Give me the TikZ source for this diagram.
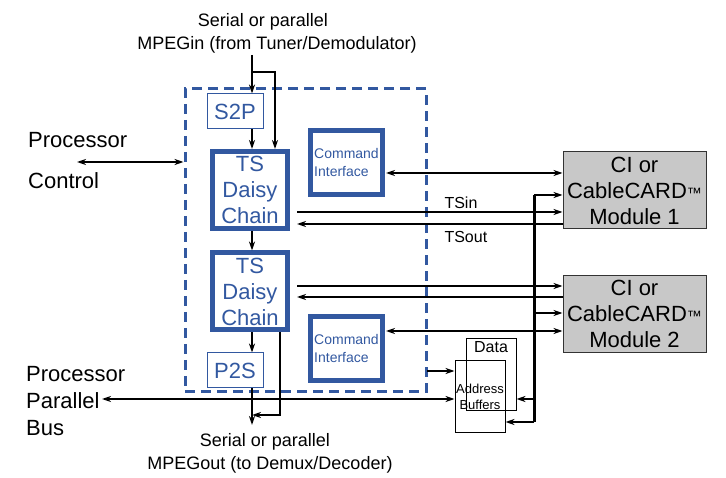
\documentclass[tikz,border=0pt]{standalone}
\usepackage{fontspec}
\setmainfont{Liberation Sans}
\usetikzlibrary{arrows.meta}
\definecolor{chipblue}{RGB}{50,88,160}
\definecolor{cardgray}{RGB}{200,200,200}

\begin{document}
\begin{tikzpicture}[x=1pt,y=-1pt,
  >={Stealth[length=9pt,width=6pt]},
  sig/.style={line width=1.5pt},
  bigtxt/.style={font=\fontsize{22}{27}\selectfont},
  captxt/.style={font=\fontsize{18}{22}\selectfont},
  smallbox/.style={draw=chipblue, line width=1pt, text=chipblue, bigtxt, inner sep=0pt, minimum width=56pt, minimum height=35pt},
  tsbox/.style={draw=chipblue, line width=5pt, text=chipblue, font=\fontsize{22}{26}\selectfont, align=center, inner sep=0pt, minimum width=75pt, minimum height=77pt},
  cmdbox/.style={draw=chipblue, line width=5pt, text=chipblue, font=\fontsize{14}{18}\selectfont, align=left, inner sep=0pt, minimum width=72pt, minimum height=64pt},
  modbox/.style={draw=black!80, line width=1pt, fill=cardgray, font=\fontsize{22}{26}\selectfont, align=center, inner sep=0pt, minimum width=143pt, minimum height=77pt},
  bufbox/.style={draw, line width=1pt, inner sep=0pt, minimum width=50pt}]
  \useasboundingbox (0,0) rectangle (726,478);

  \node[draw=chipblue, line width=3pt, dash pattern=on 10pt off 6pt, inner sep=0pt, minimum width=241pt, minimum height=303pt] at (305.5,240.5) (chip) {};
  \node[smallbox] at (235,111.5) (s2p) {S2P};
  \node[tsbox] at (250,190) (ts1) {TS\\Daisy\\Chain};
  \node[tsbox] at (250,291.5) (ts2) {TS\\Daisy\\Chain};
  \node[smallbox] at (235,370.5) (p2s) {P2S};
  \node[cmdbox] at (346.5,162.5) (ci1) {Command\\Interface};
  \node[cmdbox] at (346.5,348.5) (ci2) {Command\\Interface};
  \node[modbox] at (634.5,190.5) (mod1) {CI or\\CableCARD{\fontsize{15}{15}\selectfont ™}\\Module 1};
  \node[modbox] at (634.5,314) (mod2) {CI or\\CableCARD{\fontsize{15}{15}\selectfont ™}\\Module 2};
  \node[bufbox, minimum height=72pt, label={[font=\fontsize{16}{18}\selectfont, anchor=north, inner sep=3pt]north:Data}] at (491,375) (data) {};
  \node[bufbox, minimum height=71pt, font=\fontsize{13}{16}\selectfont, align=center] at (480,396.5) (addr) {Address\\Buffers};

  \node[captxt] at (263,22) (inA) {Serial or parallel};
  \node[captxt] at (277,45) (inB) {MPEGin (from Tuner/Demodulator)};
  \node[captxt] at (265,442) (outA) {Serial or parallel};
  \node[captxt] at (270,465) (outB) {MPEGout (to Demux/Decoder)};
  \node[bigtxt, anchor=west, inner sep=0pt] at (28,140) (procA) {Processor};
  \node[bigtxt, anchor=west, inner sep=0pt] at (28,181) (ctrl) {Control};
  \node[bigtxt, anchor=west, align=left, inner sep=0pt] at (26,401) (pbus) {Processor\\Parallel\\Bus};
  \node[font=\fontsize{16}{18}\selectfont, anchor=west] at (441,203) (tsin) {TSin};
  \node[font=\fontsize{16}{18}\selectfont, anchor=west] at (441,237) (tsout) {TSout};

  \coordinate (feed) at (252,55);
  \coordinate (split) at (252,72);
  \coordinate (drain) at (252,425);
  \coordinate (merge) at (252,415);
  \coordinate (pctl) at (77,162);
  \coordinate (pbend) at (102,399);
  \coordinate (cmd1) at (386,173);
  \coordinate (cmd2) at (386,331);
  \coordinate (in1) at (297,212);
  \coordinate (out1) at (297,224);
  \coordinate (in2) at (297,286);
  \coordinate (out2) at (297,297);
  \coordinate (regs) at (427,371);
  \coordinate (bustop) at (534,195);
  \coordinate (bus2) at (534,313);
  \coordinate (busdata) at (534,399);
  \coordinate (busbot) at (534,422);

  \draw [sig, ->] (feed) -- (s2p.north -| feed);
  \draw [sig, ->] (split) -| ([xshift=25pt]ts1.north);
  \draw [sig, ->] (s2p.south -| feed) -- (ts1.north -| feed);
  \draw [sig, ->] (ts1.south -| feed) -- (ts2.north -| feed);
  \draw [sig, ->] (ts2.south -| feed) -- (p2s.north -| feed);
  \draw [sig, ->] (p2s.south -| feed) -- (drain);
  \draw [sig, ->] ([xshift=30pt]ts2.south) |- (merge);
  \draw [sig, <->] (pctl) -- (pctl -| chip.west);
  \draw [sig, <->] (pbend) -- (pbend -| addr.west);
  \draw [sig, ->] (regs) -- (regs -| addr.west);
  \draw [sig, <->] (cmd1) -- (cmd1 -| mod1.west);
  \draw [sig, <->] (cmd2) -- (cmd2 -| mod2.west);
  \draw [sig, ->] (in1) -- (in1 -| mod1.west);
  \draw [sig, <-] (out1) -- (out1 -| mod1.west);
  \draw [sig, ->] (in2) -- (in2 -| mod2.west);
  \draw [sig, <-] (out2) -- (out2 -| mod2.west);
  \draw [line width=3pt] (bustop) -- (busbot);
  \draw [sig, ->] (bustop) -- (bustop -| mod1.west);
  \draw [sig, ->] (bus2) -- (bus2 -| mod2.west);
  \draw [sig, ->] (busdata) -- (busdata -| data.east);
  \draw [sig, ->] (busbot) -- (busbot -| addr.east);
\end{tikzpicture}
\end{document}
